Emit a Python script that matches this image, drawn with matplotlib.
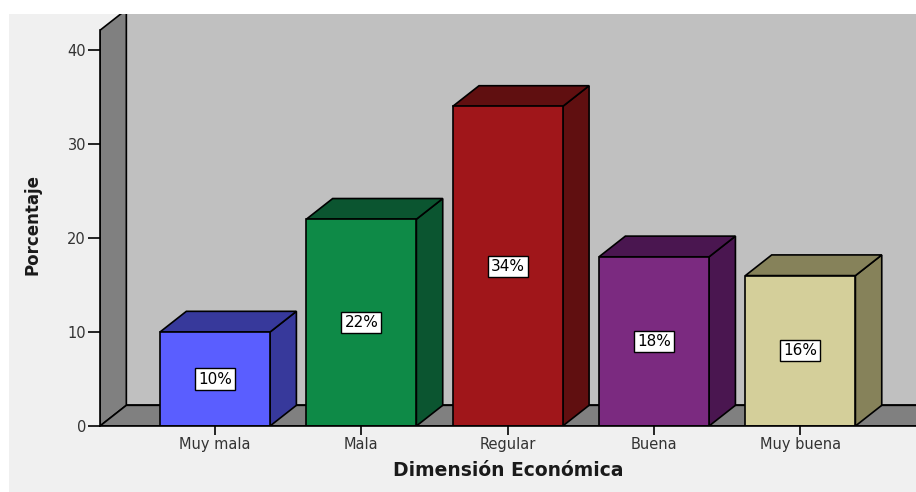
import matplotlib.pyplot as plt
from matplotlib.patches import Polygon, Rectangle
import numpy as np

# Datos
categorias = ["Muy mala", "Mala", "Regular", "Buena", "Muy buena"]
porcentajes = [10, 22, 34, 18, 16]
etiquetas = ["10%", "22%", "34%", "18%", "16%"]
colores_frente = ["#5a5eff", "#0e8a47", "#a0161a", "#7b2a80", "#d4cf9a"]
colores_lado = ["#37399b", "#0b5530", "#600f10", "#4a1650", "#86825a"]

fig = plt.figure(figsize=(9.16, 4.92), dpi=100, facecolor="white")
# fondo gris claro del grafico (franja blanca arriba y a la izquierda)
fig.patches.append(Rectangle((9 / 916, 0), 1, 1 - 14 / 492, transform=fig.transFigure,
                             facecolor="#f0f0f0", edgecolor="none", zorder=-10))

ax = fig.add_axes([100 / 916, 66 / 492, 816 / 916, 412 / 492])
ax.set_facecolor("none")

x = np.arange(len(categorias))
ancho = 0.752
dx, dy = 0.18, 2.2          # profundidad del efecto 3D (unidades de datos)
x0, x1 = -0.786, 4.79
ytop = 43.83
pared_alto = 42.1
ax.set_xlim(x0, x1)
ax.set_ylim(0, ytop)

# paredes y suelo
ax.add_patch(Polygon([(x0 + dx, dy), (x1 + 1, dy), (x1 + 1, ytop + 5), (x0 + dx, ytop + 5)],
                     facecolor="#c0c0c0", edgecolor="black", lw=1.2, zorder=1))
ax.add_patch(Polygon([(x0, 0), (x0 + dx, dy), (x0 + dx, pared_alto + dy), (x0, pared_alto)],
                     facecolor="#808080", edgecolor="black", lw=1.2, zorder=2))
ax.add_patch(Polygon([(x0, 0), (x0 + dx, dy), (x1 + 1, dy), (x1 + 1, 0)],
                     facecolor="#808080", edgecolor="black", lw=1.2, zorder=2))

# barras
ax.bar(x, porcentajes, ancho, color=colores_frente, edgecolor="black", lw=1.2, zorder=4)
for xi, h, c in zip(x, porcentajes, colores_lado):
    l, r = xi - ancho / 2, xi + ancho / 2
    ax.add_patch(Polygon([(r, 0), (r + dx, dy), (r + dx, h + dy), (r, h)],
                         facecolor=c, edgecolor="black", lw=1.2, zorder=3))
    ax.add_patch(Polygon([(l, h), (l + dx, h + dy), (r + dx, h + dy), (r, h)],
                         facecolor=c, edgecolor="black", lw=1.2, zorder=3))

for xi, h, t in zip(x, porcentajes, etiquetas):
    ax.text(xi, h / 2, t, ha="center", va="center", fontsize=11,
            family="DejaVu Sans", color="black", zorder=6,
            bbox=dict(boxstyle="square,pad=0.2", facecolor="white", edgecolor="black", lw=1))

# ejes
for s in ["top", "right"]:
    ax.spines[s].set_visible(False)
ax.spines["left"].set_bounds(0, pared_alto)
ax.spines["left"].set_linewidth(1.2)
ax.spines["bottom"].set_linewidth(1.2)
ax.spines["left"].set_zorder(5)
ax.spines["bottom"].set_zorder(5)

ax.set_yticks([0, 10, 20, 30, 40])
ax.set_xticks(x)
ax.set_xticklabels(categorias)
ax.tick_params(axis="y", length=9, width=1.2, pad=1, labelsize=10.5, labelcolor="#333333")
ax.tick_params(axis="x", length=6.5, width=1.2, pad=1.5, labelsize=10.5, labelcolor="#333333")
for lab in ax.get_xticklabels() + ax.get_yticklabels():
    lab.set_family("DejaVu Sans")

ax.set_xlabel("Dimensión Económica", fontsize=13.5, fontweight="bold", family="DejaVu Sans",
              color="#1a1a1a", va="center")
ax.xaxis.set_label_coords(0.5, -0.107)
ax.set_ylabel("Porcentaje", fontsize=12, fontweight="bold",
              family=["Liberation Sans Narrow", "DejaVu Sans"], color="#1a1a1a", va="center")
ax.yaxis.set_label_coords(-0.0833, 0.488)

fig.savefig("out.png", dpi=100)
